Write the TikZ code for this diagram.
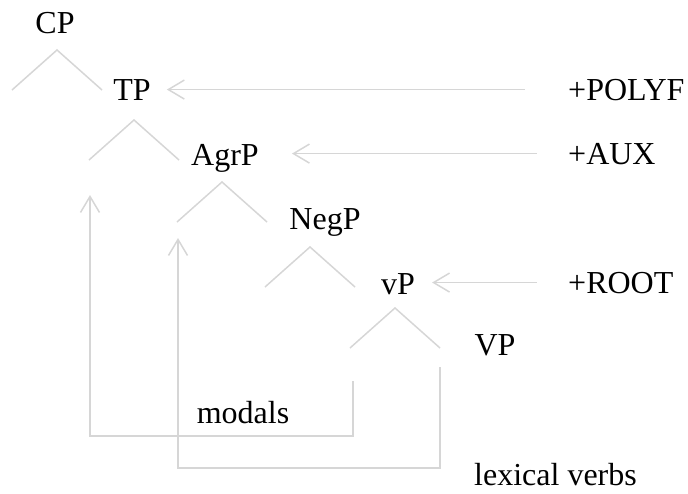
\documentclass[tikz,border=0pt]{standalone}
\usepackage{fontspec}
\setmainfont{Liberation Serif}
\usetikzlibrary{arrows.meta}
\definecolor{ln}{RGB}{214,214,214}

\begin{document}
\begin{tikzpicture}[x=1pt, y=-1pt, font=\fontsize{32}{38}\selectfont,
  lbl/.style={inner sep=0pt, anchor=base},
  ft/.style={inner sep=0pt, anchor=base west},
  br/.style={draw=ln, line width=1.5pt},
  mv/.style={draw=ln, line width=1.5pt},
  >={Straight Barb[length=16pt,width=19pt]}]
\useasboundingbox (0,0) rectangle (688,493);
% phrases
\node[lbl] (CP) at (55,33) {CP};
\node[lbl] (TP) at (132,100) {TP};
\node[lbl] (AgrP) at (225,165) {AgrP};
\node[lbl] (NegP) at (325,229) {NegP};
\node[lbl] (vP) at (398,294) {vP};
\node[lbl] (VP) at (495,355) {VP};
% features
\node[ft] (polyf) at (568,100) {+POLYF};
\node[ft] (aux) at (568,164) {+AUX};
\node[ft] (root) at (568,293) {+ROOT};
\node[lbl] (modals) at (243,423) {modals};
\node[ft] (lex) at (474,485) {lexical verbs};
% branches
\foreach \x/\y in {57/50,134/120,222/182,310/247,395/308}
  \draw[br] ({\x-45},{\y+40}) -- (\x,\y) -- ({\x+45},{\y+40});
% feature arrows
\foreach \a/\b/\s/\t in {TP/polyf/16/43, AgrP/aux/33/31, vP/root/17/31}
  \draw[mv,<-,shorten <=\s pt,shorten >=\t pt] (\a.east |- \b.west) -- (\b.west);
% movement
\coordinate (m0) at (353,381);
\coordinate (m1) at (90,195);
\coordinate (l0) at (440,367);
\coordinate (l1) at (178,238);
\draw[mv,->] (m0) -- ++(0,55) -| (m1);
\draw[mv,->] (l0) -- ++(0,101) -| (l1);
\end{tikzpicture}
\end{document}
